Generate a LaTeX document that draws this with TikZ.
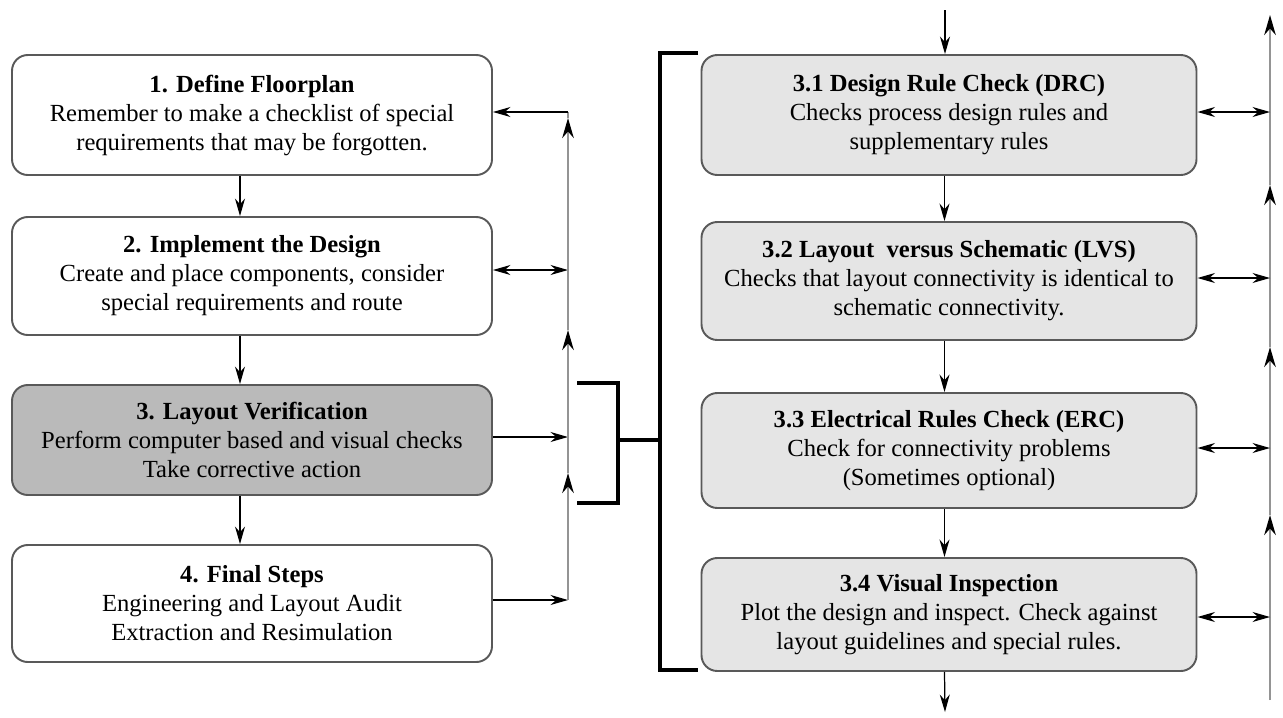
\documentclass[tikz,border=0pt]{standalone}
\usepackage{fontspec}
\setmainfont{Liberation Serif}
\usetikzlibrary{arrows.meta}

\begin{document}
\begin{tikzpicture}[
        font=\fontsize{14}{16.5}\selectfont,
        stepbox/.style={draw=black!65, line width=1.1pt, rounded corners=9pt, fill=white, minimum width=9.6cm, align=center, inner sep=2pt},
        activebox/.style={stepbox, fill=black!27},
        checkbox/.style={stepbox, fill=black!10, minimum width=9.9cm},
        flow/.style={-{Stealth[length=3.5mm, width=2mm]}, line width=0.7pt},
        both/.style={{Stealth[length=3.5mm, width=2mm]}-{Stealth[length=3.5mm, width=2mm]}, line width=0.7pt},
        grayline/.style={draw=black!42, line width=1.4pt, -{Stealth[length=4mm, width=2.3mm, black]}},
        bracket/.style={line width=2.4pt}
    ]

    \useasboundingbox (0,0) rectangle (25.66,-14.34);

    % --- Design steps (Left) ---
    \node[stepbox, minimum height=2.4cm] (s1) at (5.04,-2.30) {\textbf{1. Define Floorplan}\\Remember to make a checklist of special\\requirements that may be forgotten.};
    \node[stepbox, minimum height=2.36cm] (s2) at (5.04,-5.52) {\textbf{2. Implement the Design}\\Create and place components, consider\\special requirements and route};
    \node[activebox, minimum height=2.2cm] (s3) at (5.04,-8.80) {\textbf{3. Layout Verification}\\Perform computer based and visual checks\\Take corrective action};
    \node[stepbox, minimum height=2.34cm] (s4) at (5.04,-12.07) {\textbf{4. Final Steps}\\Engineering and Layout Audit\\Extraction and Resimulation};

    % Arrows down
    \draw[flow] ([xshift=-2.4mm]s1.south) -- ([xshift=-2.4mm]s2.north);
    \draw[flow] ([xshift=-2.4mm]s2.south) -- ([xshift=-2.4mm]s3.north);
    \draw[flow] ([xshift=-2.4mm]s3.south) -- ([xshift=-2.4mm]s4.north);

    % Feedback line
    \coordinate (fb4) at (11.36,-12.0);
    \coordinate (fb3) at (11.36,-8.74);
    \coordinate (fb2) at (11.36,-5.40);
    \coordinate (fb1) at (11.36,-2.24);
    \coordinate (t3) at (11.36,-9.46);
    \coordinate (t2) at (11.36,-6.60);
    \coordinate (t1) at (11.36,-2.36);

    \draw[flow] (s4.east |- fb4) -- (fb4);
    \draw[flow] (s3.east |- fb3) -- (fb3);
    \draw[both] (s2.east |- fb2) -- (fb2);
    \draw[grayline] (fb4) -- (t3);
    \draw[grayline] (t3) -- (t2);
    \draw[grayline] (t2) -- (t1);
    \draw[draw=black!42, line width=1.4pt] (t1) -- (fb1);
    \draw[flow] (fb1) -- (s1.east |- fb1);

    % --- Brackets ---
    \coordinate (join) at (12.36,-8.8);
    \draw[bracket] (11.54,-7.66) -| (12.36,-10.06) -- (11.54,-10.06);
    \draw[bracket] (join) -- (13.2,-8.8);
    \draw[bracket] (13.96,-1.06) -- (13.2,-1.06) -- (13.2,-13.4) -- (13.96,-13.4);

    % --- Verification checks (Right) ---
    \node[checkbox, minimum height=2.4cm] (v1) at (18.98,-2.30) {\textbf{3.1 Design Rule Check (DRC)}\\Checks process design rules and\\supplementary rules};
    \node[checkbox, minimum height=2.36cm] (v2) at (18.98,-5.62) {\textbf{3.2 Layout~ versus Schematic (LVS)}\\Checks that layout connectivity is identical to\\schematic connectivity.};
    \node[checkbox, minimum height=2.3cm] (v3) at (18.98,-9.01) {\textbf{3.3 Electrical Rules Check (ERC)}\\Check for connectivity problems\\(Sometimes optional)};
    \node[checkbox, minimum height=2.26cm] (v4) at (18.98,-12.29) {\textbf{3.4 Visual Inspection}\\Plot the design and inspect. Check against\\layout guidelines and special rules.};

    % Arrows down
    \coordinate (in) at (18.9,-0.2);
    \coordinate (out) at (18.9,-14.24);
    \draw[flow] (in) -- (in |- v1.north);
    \draw[flow] ([xshift=-0.9mm]v1.south) -- ([xshift=-0.9mm]v2.north);
    \draw[flow] ([xshift=-0.9mm]v2.south) -- ([xshift=-0.9mm]v3.north);
    \draw[flow] ([xshift=-0.9mm]v3.south) -- ([xshift=-0.9mm]v4.north);
    \draw[flow] ([xshift=-0.9mm]v4.south) -- (out);

    % Right line
    \coordinate (r0) at (25.4,-14.0);
    \coordinate (r1) at (25.4,-2.24);
    \coordinate (r2) at (25.4,-5.56);
    \coordinate (r3) at (25.4,-8.96);
    \coordinate (r4) at (25.4,-12.34);
    \coordinate (u4) at (25.4,-10.3);
    \coordinate (u3) at (25.4,-6.94);
    \coordinate (u2) at (25.4,-3.70);
    \coordinate (u1) at (25.4,-0.30);

    \draw[grayline] (r0) -- (u4);
    \draw[grayline] (u4) -- (u3);
    \draw[grayline] (u3) -- (u2);
    \draw[grayline] (u2) -- (u1);
    \draw[both] (v1.east |- r1) -- (r1);
    \draw[both] (v2.east |- r2) -- (r2);
    \draw[both] (v3.east |- r3) -- (r3);
    \draw[both] (v4.east |- r4) -- (r4);

\end{tikzpicture}
\end{document}
